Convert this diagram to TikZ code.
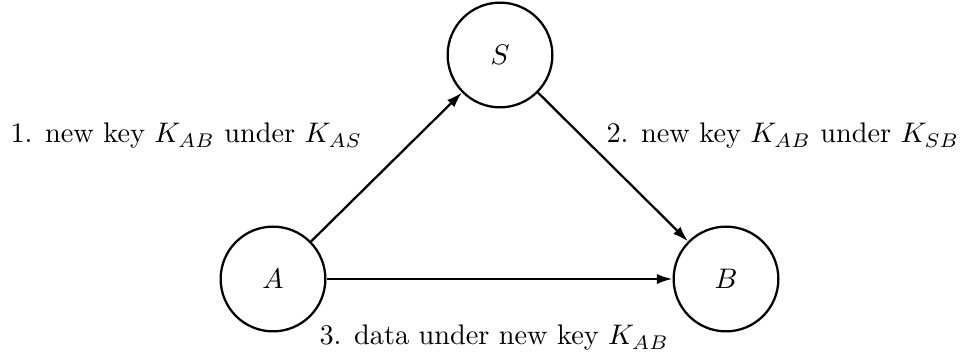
\documentclass[tikz,border=0pt]{standalone}
\usetikzlibrary{arrows.meta}
\begin{document}
\begin{tikzpicture}[x=0.3533pt,y=-0.3533pt,
  party/.style={circle,draw,thick,minimum size=37pt,inner sep=0pt},
  msg/.style={thick,-{Latex[length=5.5pt,width=3.6pt]}},
  lbl/.style={inner sep=0pt,anchor=base west}]
\useasboundingbox (0,0) rectangle (966,355);
\node[party] (A) at (273,279) {$A$};
\node[party] (B) at (726,279) {$B$};
\node[party] (S) at (500,55) {$S$};
\draw[msg] (A) -- (S);
\draw[msg] (S) -- (B);
\draw[msg] (A) -- (B);
\node[lbl] (l1) at (10,143) {1. new key $K_{AB}$ under $K_{AS}$};
\node[lbl] (l2) at (606,143) {2. new key $K_{AB}$ under $K_{SB}$};
\node[lbl] (l3) at (319,345) {3. data under new key $K_{AB}$};
\end{tikzpicture}
\end{document}
